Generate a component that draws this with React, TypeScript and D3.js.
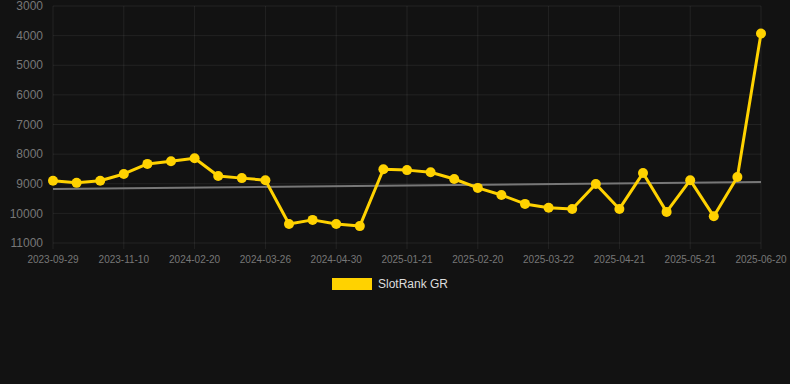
import React from "react";
import * as d3 from "d3";

const dates = [
  "2023-09-29", "2023-10-13", "2023-10-27", "2023-11-10", "2023-11-24", "2023-12-08",
  "2024-02-20", "2024-03-01", "2024-03-13", "2024-03-26", "2024-04-05", "2024-04-18",
  "2024-04-30", "2024-05-10", "2025-01-10", "2025-01-21", "2025-01-31", "2025-02-10",
  "2025-02-20", "2025-03-02", "2025-03-12", "2025-03-22", "2025-04-01", "2025-04-11",
  "2025-04-21", "2025-05-01", "2025-05-11", "2025-05-21", "2025-05-31", "2025-06-10",
  "2025-06-20",
];
const tickLabels = [
  "2023-09-29", "2023-11-10", "2024-02-20", "2024-03-26", "2024-04-30", "2025-01-21",
  "2025-02-20", "2025-03-22", "2025-04-21", "2025-05-21", "2025-06-20",
];
const rankValues = [
  8900, 8970, 8900, 8670, 8330, 8240, 8140, 8740, 8810, 8880,
  10360, 10220, 10360, 10430, 8510, 8540, 8610, 8840, 9140, 9380,
  9680, 9810, 9850, 9010, 9850, 8640, 9950, 8880, 10100, 8770, 3930,
];
const trendValues = [9180, 8945];
const yTicks = [3000, 4000, 5000, 6000, 7000, 8000, 9000, 10000, 11000];
const seriesName = "SlotRank GR";

export default function App() {
  React.useEffect(() => {
    document.body.style.margin = "0";
    document.body.style.background = "#121212";
  }, []);
  const W = 790, H = 384;
  const left = 53, right = 761, top = 6, bottom = 243;
  const x = d3.scalePoint<string>().domain(dates).range([left, right]);
  const y = d3.scaleLinear().domain([3000, 11000]).range([top, bottom]);
  const line = d3.line<number>().x((_, i) => x(dates[i])!).y((v) => y(v));
  const font = "Liberation Sans, Arial, Helvetica, sans-serif";
  const grid = "rgba(255,255,255,0.07)";
  return (
    <svg width={W} height={H} style={{ display: "block", background: "#121212" }}>
      <rect x={0} y={0} width={W} height={H} fill="#121212" />
      {yTicks.map((t) => (
        <g key={t}>
          <line x1={left} x2={right} y1={y(t)} y2={y(t)} stroke={grid} />
          <text x={43} y={y(t)} dy="0.35em" textAnchor="end" fill="#777" fontSize={12} fontFamily={font}>
            {t}
          </text>
        </g>
      ))}
      {tickLabels.map((d) => (
        <g key={d}>
          <line x1={x(d)} x2={x(d)} y1={top} y2={bottom + 6} stroke={grid} />
          <text x={x(d)} y={263} textAnchor="middle" fill="#777" fontSize={10} fontFamily={font}>
            {d}
          </text>
        </g>
      ))}
      <line
        x1={x(dates[0])}
        x2={x(dates[dates.length - 1])}
        y1={y(trendValues[0])}
        y2={y(trendValues[1])}
        stroke="#777"
        strokeWidth={2}
      />
      <path d={line(rankValues) || ""} fill="none" stroke="#ffd200" strokeWidth={3} strokeLinejoin="round" />
      {rankValues.map((v, i) => (
        <circle key={i} cx={x(dates[i])} cy={y(v)} r={5} fill="#ffd200" />
      ))}
      <rect x={332} y={278} width={40} height={12} fill="#ffd200" />
      <text x={378} y={288} fill="#ddd" fontSize={12} fontFamily={font}>
        {seriesName}
      </text>
    </svg>
  );
}
